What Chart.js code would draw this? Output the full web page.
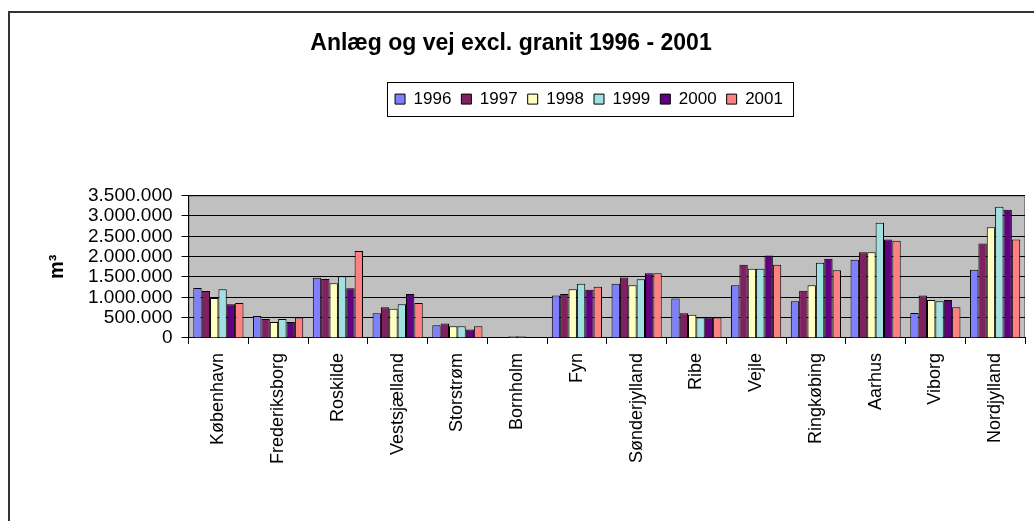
<!DOCTYPE html>
<html>
<head>
<meta charset="utf-8">
<title>Anlæg og vej excl. granit 1996 - 2001</title>
<script src="https://cdn.jsdelivr.net/npm/chart.js@4/dist/chart.umd.min.js"></script>
<style>
  html, body { margin: 0; padding: 0; background: #fff; }
</style>
</head>
<body>
<canvas id="graniteChart" width="1034" height="521"></canvas>
<script>
// amter (categories)
const categories = ['København', 'Frederiksborg', 'Roskilde', 'Vestsjælland', 'Storstrøm', 'Bornholm',
  'Fyn', 'Sønderjylland', 'Ribe', 'Vejle', 'Ringkøbing', 'Aarhus', 'Viborg', 'Nordjylland'];
const years = ['1996', '1997', '1998', '1999', '2000', '2001'];

// m3 per amt
const values1996 = [1230000, 540000, 1480000, 605000, 315000, 0, 1045000, 1335000, 970000, 1295000, 905000, 1925000, 615000, 1675000];
const values1997 = [1155000, 465000, 1450000, 755000, 355000, 0, 1080000, 1485000, 605000, 1800000, 1160000, 2105000, 1045000, 2320000];
const values1998 = [980000, 390000, 1345000, 720000, 285000, 45000, 1195000, 1295000, 570000, 1700000, 1295000, 2105000, 935000, 2720000];
const values1999 = [1195000, 465000, 1515000, 830000, 285000, 45000, 1335000, 1445000, 500000, 1700000, 1850000, 2830000, 905000, 3225000];
const values2000 = [830000, 390000, 1225000, 1080000, 205000, 0, 1185000, 1590000, 500000, 2025000, 1950000, 2420000, 935000, 3150000];
const values2001 = [860000, 505000, 2140000, 860000, 285000, 0, 1260000, 1590000, 500000, 1800000, 1665000, 2390000, 755000, 2420000];

const yTicks = [0, 500000, 1000000, 1500000, 2000000, 2500000, 3000000, 3500000];

const colors = ['#8080ff', '#802060', '#ffffc0', '#a0e0e0', '#600080', '#ff8080'];
const series = [values1996, values1997, values1998, values1999, values2000, values2001];

Chart.defaults.font.family = "'Liberation Sans', Arial, sans-serif";
Chart.defaults.color = '#000';

// dansk tusindtalsseparator
function formatDots(v) {
  return String(v).replace(/\B(?=(\d{3})+(?!\d))/g, '.');
}

const frame = {
  id: 'frame',
  afterInit(chart) {
    // ekstra luft under legenden
    const legend = chart.legend;
    const fit = legend.fit;
    legend.fit = function () {
      fit.call(this);
      this.height += 78;
    };
  },
  afterUpdate(chart) {
    const legend = chart.legend;
    const boxes = legend.legendHitBoxes;
    const first = boxes[0];
    const last = boxes[boxes.length - 1];
    const shift = 589 - (first.left + last.left + last.width) / 2;
    legend.left += shift;
    legend.right += shift;
    boxes.forEach((b) => { b.left += shift; });

    const title = chart.titleBlock;
    const s = 511 - (title.left + title.right) / 2;
    title.left += s;
    title.right += s;
  },
  beforeDraw(chart) {
    const { ctx, chartArea: a } = chart;
    ctx.save();
    ctx.fillStyle = '#fff';
    ctx.fillRect(0, 0, chart.width, chart.height);
    ctx.fillStyle = '#c0c0c0';
    ctx.fillRect(a.left, a.top, a.right - a.left, a.bottom - a.top);
    ctx.strokeStyle = '#808080';
    ctx.lineWidth = 1;
    ctx.strokeRect(a.left + 0.5, a.top + 0.5, a.right - a.left - 1, a.bottom - a.top - 1);
    ctx.strokeStyle = '#333';
    ctx.lineWidth = 2;
    ctx.beginPath();
    ctx.moveTo(9, chart.height);
    ctx.lineTo(9, 12);
    ctx.lineTo(chart.width, 12);
    ctx.stroke();
    ctx.restore();
  },
  afterDraw(chart) {
    const { ctx } = chart;
    const legend = chart.legend;
    const boxes = legend.legendHitBoxes;
    const first = boxes[0];
    const last = boxes[boxes.length - 1];
    const x0 = Math.round(first.left - 8);
    const x1 = Math.round(last.left + last.width + 10);
    const y0 = Math.round(first.top - 9);
    ctx.save();
    ctx.strokeStyle = '#000';
    ctx.lineWidth = 1;
    ctx.strokeRect(x0 + 0.5, y0 + 0.5, x1 - x0, 34);
    ctx.restore();
  }
};

new Chart(document.getElementById('graniteChart'), {
  type: 'bar',
  data: {
    labels: categories,
    datasets: years.map((year, i) => ({
      label: year,
      data: series[i],
      backgroundColor: colors[i],
      borderColor: '#000',
      borderWidth: 1,
      categoryPercentage: 0.84,
      barPercentage: 1.0,
    })),
  },
  options: {
    responsive: false,
    animation: false,
    devicePixelRatio: 1,
    layout: { padding: { left: 22, right: 9, top: 0, bottom: 48 } },
    plugins: {
      title: {
        display: true,
        text: 'Anlæg og vej excl. granit 1996 - 2001',
        color: '#000',
        font: { size: 23, weight: 'bold' },
        padding: { top: 30, bottom: 23 },
      },
      legend: {
        position: 'top',
        labels: {
          color: '#000',
          font: { size: 17 },
          boxWidth: 10,
          boxHeight: 10,
          padding: 10,
        },
      },
      tooltip: { enabled: false },
    },
    scales: {
      x: {
        grid: { drawOnChartArea: false, color: '#000', tickLength: 6, offset: true },
        border: { color: '#000' },
        ticks: { color: '#000', font: { size: 18 }, minRotation: 90, maxRotation: 90, autoSkip: false, padding: 9 },
      },
      y: {
        min: 0,
        max: 3500000,
        afterBuildTicks: (scale) => { scale.ticks = yTicks.map((v) => ({ value: v })); },
        ticks: { color: '#000', font: { size: 19 }, padding: 9, autoSkip: false, callback: (v) => formatDots(v) },
        grid: { color: '#000', tickLength: 7 },
        border: { color: '#000' },
        title: {
          display: true,
          text: 'm³',
          color: '#000',
          font: { size: 20, weight: 'bold' },
          padding: { top: 23, bottom: 10 },
        },
      },
    },
  },
  plugins: [frame],
});
</script>
</body>
</html>
